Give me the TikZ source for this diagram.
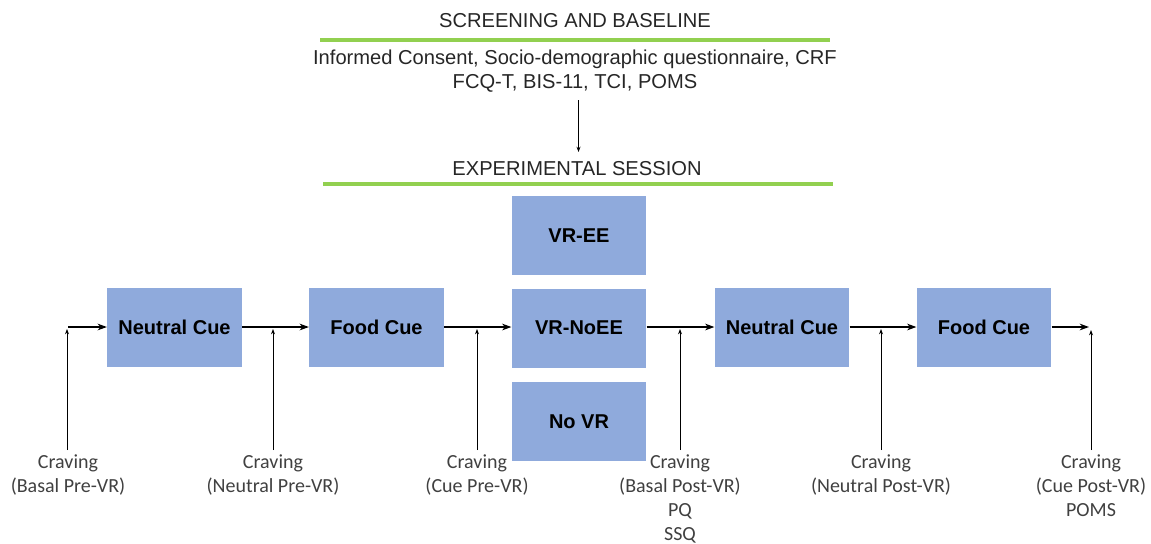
\documentclass[tikz,border=0pt]{standalone}
\usepackage{fontspec}
\setmainfont{Liberation Sans}
\newfontfamily\lblfont{Carlito}
\usetikzlibrary{arrows.meta}
\definecolor{boxblue}{HTML}{8FAADC}
\definecolor{bargreen}{HTML}{92D050}
\begin{document}
\begin{tikzpicture}[x=0.75pt,y=-0.75pt,
  stagebox/.style={fill=boxblue, minimum width=101pt, minimum height=59.25pt, inner sep=0pt, font=\fontsize{15}{18}\selectfont\bfseries},
  head/.style={font=\fontsize{15.1}{18}\selectfont, text=black!85, inner sep=0pt},
  lbl/.style={font=\lblfont\fontsize{15}{18}\selectfont, text=black!75, align=center, inner sep=0pt, anchor=north},
  flow/.style={line width=1.5pt, -{Stealth[length=7pt,width=5pt]}},
  meas/.style={line width=0.6pt, -{Stealth[length=4pt,width=3pt]}},
  bar/.style={bargreen, line width=3pt}]
\useasboundingbox (0,0) rectangle (1151,543);

% header
\node[head] (sb) at (575,21) {SCREENING AND BASELINE};
\draw[bar] (320,39.5) -- (830,39.5);
\node[head, align=center] (base) at (575,71) {Informed Consent, Socio-demographic questionnaire, CRF\\FCQ-T, BIS-11, TCI, POMS};
\coordinate (a1) at (578.5,100);
\coordinate (a2) at (578.5,152);
\draw[meas] (a1) -- (a2);
\node[head] (es) at (577,169) {EXPERIMENTAL SESSION};
\draw[bar] (323,184) -- (833,184);

% boxes
\node[stagebox] (n1) at (174.5,327) {Neutral Cue};
\node[stagebox] (f1) at (376.5,327) {Food Cue};
\node[stagebox] (vree) at (579,235.5) {VR-EE};
\node[stagebox] (vrno) at (579,328) {VR-NoEE};
\node[stagebox] (novr) at (579,421.5) {No VR};
\node[stagebox] (n2) at (782,327) {Neutral Cue};
\node[stagebox] (f2) at (984,327) {Food Cue};

% main flow
\coordinate (st) at (68,327);
\coordinate (en) at (1089,327);
\draw[flow] (st) -- (n1.west);
\draw[flow] (n1.east) -- (f1.west);
\draw[flow] (f1.east) -- (vrno.west |- f1.east);
\draw[flow] (vrno.east |- n2.west) -- (n2.west);
\draw[flow] (n2.east) -- (f2.west);
\draw[flow] (f2.east) -- (en);

% measurement points
\coordinate (m1) at (67,329);
\coordinate (m2) at (273,329);
\coordinate (m3) at (477,329);
\coordinate (m4) at (680,329);
\coordinate (m5) at (881,329);
\coordinate (m6) at (1091,330);

\node[lbl] (l1) at (68,454) {Craving\\(Basal Pre-VR)};
\node[lbl] (l2) at (273,454) {Craving\\(Neutral Pre-VR)};
\node[lbl] (l3) at (477,454) {Craving\\(Cue Pre-VR)};
\node[lbl] (l4) at (680,454) {Craving\\(Basal Post-VR)\\PQ\\SSQ};
\node[lbl] (l5) at (881,454) {Craving\\(Neutral Post-VR)};
\node[lbl] (l6) at (1091,454) {Craving\\(Cue Post-VR)\\POMS};

\draw[meas] ([yshift=3pt]l1.north -| m1) -- (m1);
\draw[meas] ([yshift=3pt]l2.north -| m2) -- (m2);
\draw[meas] ([yshift=3pt]l3.north -| m3) -- (m3);
\draw[meas] ([yshift=3pt]l4.north -| m4) -- (m4);
\draw[meas] ([yshift=3pt]l5.north -| m5) -- (m5);
\draw[meas] ([yshift=3pt]l6.north -| m6) -- (m6);
\end{tikzpicture}
\end{document}
